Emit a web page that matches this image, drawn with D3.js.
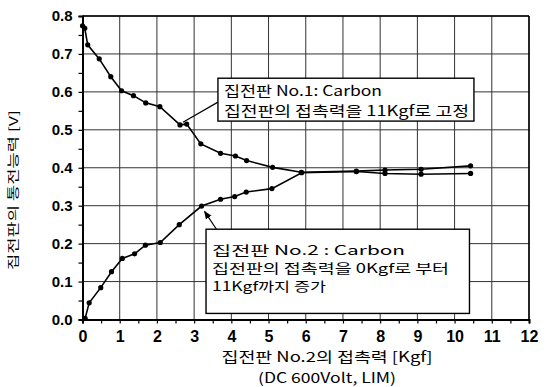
<!DOCTYPE html>
<html>
<head>
<meta charset="utf-8">
<script src="https://d3js.org/d3.v7.min.js"></script>
<style>
  body { margin: 0; background: #fff; }
  svg { display: block; }
</style>
</head>
<body>
<div id="chart"></div>
<script>
// series 1 : plate No.1 fixed at 11Kgf
var forceA = [0, 0.06, 0.14, 0.45, 0.76, 1.05, 1.37, 1.7, 2.08, 2.62, 2.8, 3.18, 3.71, 4.11, 4.41, 5.11, 5.88, 7.36, 8.13, 9.1, 10.43];
var voltA  = [0.774, 0.768, 0.724, 0.687, 0.64, 0.603, 0.59, 0.571, 0.561, 0.513, 0.515, 0.463, 0.438, 0.431, 0.419, 0.401, 0.388, 0.391, 0.394, 0.396, 0.405];
// series 2 : plate No.2 from 0 to 11Kgf
var forceB = [0.07, 0.18, 0.49, 0.78, 1.07, 1.4, 1.69, 2.09, 2.6, 3.2, 3.71, 4.09, 4.4, 5.09, 5.89, 7.36, 8.13, 9.1, 10.43];
var voltB  = [0.003, 0.044, 0.084, 0.126, 0.161, 0.173, 0.196, 0.203, 0.25, 0.299, 0.317, 0.324, 0.336, 0.345, 0.387, 0.39, 0.385, 0.383, 0.385];

var xTicks = [0, 1, 2, 3, 4, 5, 6, 7, 8, 9, 10, 11, 12];
var yTicks = [0.0, 0.1, 0.2, 0.3, 0.4, 0.5, 0.6, 0.7, 0.8];

var xTitle = "집전판 No.2의 접촉력 [Kgf]";
var xSubTitle = "(DC 600Volt, LIM)";
var yTitle = "집전판의 통전능력 [V]";

var note1 = ["집전판 No.1: Carbon", "집전판의 접촉력을 11Kgf로 고정"];
var note2 = ["집전판 No.2 : Carbon", "집전판의 접촉력을 0Kgf로 부터", "11Kgf까지 증가"];

var W = 554, H = 387;
var pLeft = 82.5, pRight = 529, pTop = 16, pBottom = 319.5;
var kfont = "'Noto Sans CJK KR', 'DejaVu Sans', sans-serif";

var x = d3.scaleLinear().domain([0, 12]).range([pLeft, pRight]);
var y = d3.scaleLinear().domain([0, 0.8]).range([pBottom, pTop]);

var svg = d3.select("#chart").append("svg")
    .attr("width", W)
    .attr("height", H);

// grid
svg.append("g")
  .selectAll("line")
  .data(xTicks)
  .enter().append("line")
    .attr("x1", function(d) { return x(d); })
    .attr("x2", function(d) { return x(d); })
    .attr("y1", pTop)
    .attr("y2", pBottom)
    .attr("stroke", "#333")
    .attr("stroke-width", 1);

svg.append("g")
  .selectAll("line")
  .data(yTicks)
  .enter().append("line")
    .attr("x1", pLeft)
    .attr("x2", pRight)
    .attr("y1", function(d) { return y(d); })
    .attr("y2", function(d) { return y(d); })
    .attr("stroke", "#333")
    .attr("stroke-width", 1);

// axes
var xAxis = d3.axisBottom(x).tickValues(d3.range(0, 12.01, 0.5))
    .tickSize(4).tickFormat(function(d) { return d % 1 === 0 ? d : ""; });
var gx = svg.append("g").attr("transform", "translate(0," + pBottom + ")").call(xAxis);
gx.select(".domain").attr("stroke", "#000").attr("stroke-width", 2);
gx.selectAll(".tick line").attr("stroke", "#000").attr("stroke-width", 1.2);
gx.selectAll("text")
    .attr("font-family", "'Liberation Sans', Arial, sans-serif")
    .attr("font-weight", "bold")
    .attr("font-size", "16px")
    .attr("fill", "#000")
    .attr("dy", "0.95em");

var yAxis = d3.axisLeft(y).tickValues(d3.range(0, 0.801, 0.05))
    .tickSize(4).tickFormat(function(d) {
        var r = Math.round(d * 100);
        return r % 10 === 0 ? d3.format(".1f")(d) : "";
    });
var gy = svg.append("g").attr("transform", "translate(" + pLeft + ",0)").call(yAxis);
gy.select(".domain").attr("stroke", "#000").attr("stroke-width", 2);
gy.selectAll(".tick line").attr("stroke", "#000").attr("stroke-width", 1.2);
gy.selectAll("text")
    .attr("font-family", "'Liberation Sans', Arial, sans-serif")
    .attr("font-weight", "bold")
    .attr("font-size", "15px")
    .attr("fill", "#000")
    .attr("x", -10);

// frame top/right
svg.append("line").attr("x1", pLeft).attr("x2", pRight).attr("y1", pTop).attr("y2", pTop)
    .attr("stroke", "#000").attr("stroke-width", 1.5);
svg.append("line").attr("x1", pRight).attr("x2", pRight).attr("y1", pTop).attr("y2", pBottom)
    .attr("stroke", "#000").attr("stroke-width", 1.5);

// curves
var line = d3.line()
    .x(function(d) { return x(d[0]); })
    .y(function(d) { return y(d[1]); });

function drawSeries(xs, ys) {
    var pts = xs.map(function(v, i) { return [v, ys[i]]; });
    svg.append("path")
        .datum(pts)
        .attr("d", line)
        .attr("fill", "none")
        .attr("stroke", "#000")
        .attr("stroke-width", 1.6);
    svg.append("g").selectAll("circle")
        .data(pts)
        .enter().append("circle")
          .attr("cx", function(d) { return x(d[0]); })
          .attr("cy", function(d) { return y(d[1]); })
          .attr("r", 2.6)
          .attr("fill", "#000");
}
drawSeries(forceA, voltA);
drawSeries(forceB, voltB);

// annotations
svg.append("defs").append("marker")
    .attr("id", "arr")
    .attr("viewBox", "0 0 10 10")
    .attr("refX", 9).attr("refY", 5)
    .attr("markerWidth", 7).attr("markerHeight", 7)
    .attr("orient", "auto")
  .append("path").attr("d", "M0,1 L10,5 L0,9 z").attr("fill", "#000");

// leader lines
svg.append("line")
    .attr("x1", x(3.64)).attr("y1", y(0.573))
    .attr("x2", x(2.7)).attr("y2", y(0.52))
    .attr("stroke", "#000").attr("stroke-width", 1.2);
svg.append("line")
    .attr("x1", x(3.6)).attr("y1", y(0.238))
    .attr("x2", x(3.28)).attr("y2", y(0.285))
    .attr("stroke", "#000").attr("stroke-width", 1.2)
    .attr("marker-end", "url(#arr)");

function noteBox(x0, x1, y0, y1, lines, baseY, step, size, widths) {
    svg.append("rect")
        .attr("x", x(x0)).attr("y", y(y0))
        .attr("width", x(x1) - x(x0)).attr("height", y(y1) - y(y0))
        .attr("fill", "#fff")
        .attr("stroke", "#000").attr("stroke-width", 1.4);
    lines.forEach(function(t, i) {
        svg.append("text")
            .attr("x", x(x0) + 6)
            .attr("y", y(y0) + baseY + i * step)
            .attr("font-family", kfont)
            .attr("font-size", size + "px")
            .attr("fill", "#000")
            .attr("textLength", widths[i])
            .attr("lengthAdjust", "spacingAndGlyphs")
            .text(t);
    });
}
noteBox(3.64, 10.52, 0.636, 0.523, note1, 18, 20, 14, [158, 245]);
noteBox(3.32, 10.4, 0.238, 0.016, note2, 26, 18, 13, [193, 237, 114]);

// axis titles
svg.append("text")
    .attr("x", 327).attr("y", 362)
    .attr("text-anchor", "middle")
    .attr("font-family", kfont)
    .attr("font-size", "14px")
    .attr("textLength", 211)
    .attr("lengthAdjust", "spacingAndGlyphs")
    .text(xTitle);
svg.append("text")
    .attr("x", 327).attr("y", 383)
    .attr("text-anchor", "middle")
    .attr("font-family", kfont)
    .attr("font-size", "14px")
    .attr("textLength", 138)
    .attr("lengthAdjust", "spacingAndGlyphs")
    .text(xSubTitle);
svg.append("text")
    .attr("transform", "translate(18,190) rotate(-90)")
    .attr("text-anchor", "middle")
    .attr("font-family", kfont)
    .attr("font-size", "12px")
    .attr("textLength", 160)
    .attr("lengthAdjust", "spacingAndGlyphs")
    .text(yTitle);
</script>
</body>
</html>
